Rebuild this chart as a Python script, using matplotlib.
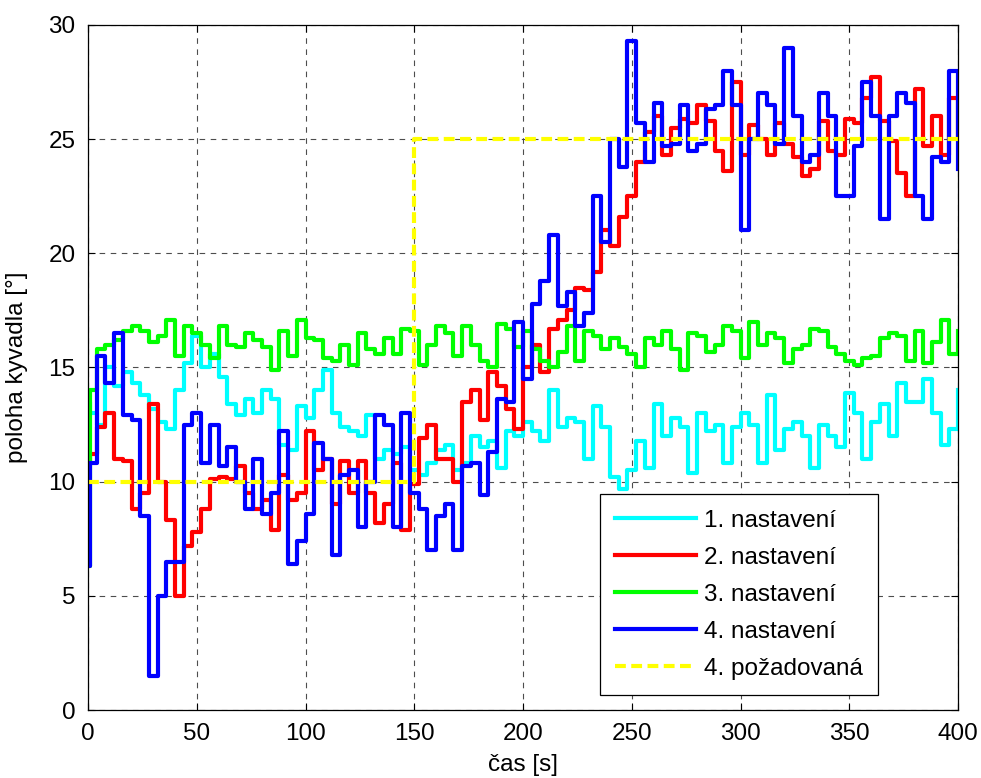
import numpy as np
import matplotlib
matplotlib.use("Agg")
import matplotlib.pyplot as plt

# time axis [s]: short first step, then 4 s samples
cas = np.r_[0.0, 1.0, np.arange(4, 401, 4)]

nastaveni_1 = [
    13.5, 13.0,
    12.5, 15.0, 14.2, 14.8, 14.3, 13.8, 13.2, 12.6, 12.3, 14.0, 15.2, 16.4, 15.0,
    15.6, 14.6, 13.4, 12.9, 13.6, 13.0, 14.0, 13.6, 11.6, 11.4, 13.3, 12.8,
    14.0, 14.9, 13.0, 12.4, 12.2, 12.0, 12.9, 11.0, 11.4, 11.2, 11.5, 10.5, 10.3,
    10.8, 11.4, 11.6, 10.5, 10.8, 12.0, 11.5, 11.8, 10.6, 12.2, 12.0, 12.6,
    12.2, 11.8, 14.0, 12.4, 12.8, 12.6, 11.0, 13.3, 12.4, 10.2, 9.7, 10.5, 11.8,
    10.6, 13.4, 12.0, 12.8, 12.4, 10.4, 13.0, 12.2, 12.5, 10.8, 12.4, 13.0,
    12.5, 10.8, 13.8, 11.4, 12.3, 12.6, 12.0, 10.6, 12.5, 12.0, 11.5, 13.9, 13.0,
    11.0, 12.6, 13.4, 12.0, 14.3, 13.5, 13.5, 14.5, 13.0, 11.6, 12.3, 14.0,
]

nastaveni_2 = [
    10.8, 11.2,
    12.4, 13.0, 11.0, 10.9, 8.8, 9.5, 13.4, 10.0, 8.3, 5.0, 7.2, 7.8, 8.8,
    10.1, 10.2, 10.1, 10.7, 9.5, 8.8, 9.2, 7.9, 10.3, 9.2, 9.5, 12.2,
    10.5, 11.0, 9.0, 10.9, 9.5, 10.9, 9.5, 8.2, 9.0, 10.8, 7.9, 9.9, 11.9,
    12.5, 11.0, 11.0, 10.0, 13.5, 14.0, 12.7, 14.8, 14.2, 13.2, 12.3, 15.0,
    16.0, 14.8, 16.7, 17.1, 17.5, 18.5, 18.4, 19.2, 21.0, 20.3, 21.6, 22.5, 24.0,
    25.3, 26.0, 24.3, 25.5, 25.9, 25.7, 26.5, 25.8, 24.5, 23.6, 27.5, 24.3,
    25.6, 25.0, 24.3, 25.7, 24.8, 24.2, 23.4, 23.7, 25.8, 24.5, 24.3, 25.9, 25.7,
    26.8, 27.7, 25.8, 24.9, 23.5, 22.5, 27.2, 24.7, 26.0, 24.3, 26.8, 25.0,
]

nastaveni_3 = [
    6.3, 14.0,
    15.8, 16.0, 16.2, 16.6, 16.8, 16.6, 16.1, 16.4, 17.1, 15.5, 16.8, 16.5, 16.0,
    15.4, 16.8, 16.0, 15.9, 16.5, 16.2, 15.9, 14.9, 16.6, 15.5, 17.1, 16.3,
    16.2, 15.4, 15.3, 16.0, 15.1, 16.5, 15.8, 15.6, 16.3, 15.6, 16.7, 16.6, 15.1,
    16.0, 16.8, 16.5, 15.5, 16.8, 16.0, 15.3, 15.0, 16.9, 16.7, 15.9, 16.6,
    15.8, 15.3, 15.0, 15.7, 16.8, 15.3, 16.6, 16.4, 15.8, 16.3, 15.9, 15.6, 15.0,
    16.3, 16.0, 16.6, 15.8, 14.9, 16.5, 16.4, 15.7, 16.0, 16.8, 16.6, 15.4,
    17.0, 16.0, 16.5, 16.3, 15.2, 15.8, 16.0, 16.7, 16.6, 15.9, 15.6, 15.3, 15.1,
    15.4, 15.5, 16.3, 16.5, 16.4, 15.3, 16.6, 15.2, 16.1, 17.1, 15.6, 16.6,
]

nastaveni_4 = [
    6.3, 10.8,
    15.5, 14.3, 16.5, 12.9, 12.7, 8.5, 1.5, 5.0, 6.5, 6.5, 12.5, 13.0, 10.8,
    12.5, 10.7, 11.5, 10.0, 8.8, 11.0, 8.6, 9.5, 12.2, 6.4, 7.4, 8.6,
    11.7, 11.0, 6.8, 10.3, 10.5, 8.0, 10.0, 12.9, 12.5, 8.0, 13.0, 9.5, 8.8,
    7.0, 8.5, 9.0, 7.0, 10.7, 10.8, 9.4, 11.3, 13.6, 13.5, 17.0, 14.5,
    17.8, 18.8, 20.8, 17.7, 18.3, 16.8, 17.4, 22.5, 20.5, 25.0, 23.8, 29.3, 25.7,
    24.0, 26.6, 24.7, 24.8, 26.5, 24.5, 24.8, 26.3, 26.5, 28.0, 26.5, 21.0,
    25.0, 27.0, 26.5, 24.8, 29.0, 26.0, 24.0, 24.3, 27.0, 26.0, 22.5, 22.5, 24.7,
    27.5, 26.0, 21.5, 26.0, 27.0, 26.6, 22.5, 21.5, 24.2, 24.0, 28.0, 23.7,
]

# reference: 10 deg until 150 s, then 25 deg
ref_cas = [0, 150, 400]
ref_hodnoty = [10, 25, 25]

serie = [
    (nastaveni_1, "#00ffff", "1. nastavení"),
    (nastaveni_2, "#ff0000", "2. nastavení"),
    (nastaveni_3, "#00ff00", "3. nastavení"),
    (nastaveni_4, "#0000ff", "4. nastavení"),
]

plt.rcParams["font.family"] = ["Liberation Sans", "DejaVu Sans"]
plt.rcParams["font.size"] = 17.5

fig = plt.figure(figsize=(9.81, 7.78), dpi=100)
ax = fig.add_axes([0.0897, 0.0874, 0.887, 0.8805])

for hodnoty, barva, popis in serie:
    ax.plot(cas, hodnoty, drawstyle="steps-post", color=barva, lw=3.0, label=popis)
ax.plot(ref_cas, ref_hodnoty, drawstyle="steps-post", color="#ffff00", lw=3.0,
        dashes=(2.6, 1.3), label="4. požadovaná")

ax.set_xlim(0, 400)
ax.set_ylim(0, 30)
ax.set_xticks(np.arange(0, 401, 50))
ax.set_yticks(np.arange(0, 31, 5))
ax.grid(True, color="0.3", linestyle=(0, (5, 5)), lw=0.8)
ax.tick_params(direction="in", top=True, right=True, length=5, width=0.8, pad=9)
for sp in ax.spines.values():
    sp.set_linewidth(0.9)

ax.set_xlabel("čas [s]", labelpad=7)
ax.set_ylabel("poloha kyvadla [°]", labelpad=15)

leg = ax.legend(loc="lower right", bbox_to_anchor=(0.908, 0.022), borderaxespad=0,
                fancybox=False, framealpha=1, edgecolor="black", handlelength=3.3,
                labelspacing=0.62, borderpad=0.62, handletextpad=0.35)
leg.get_frame().set_linewidth(0.9)

fig.savefig("out.png", dpi=100)
